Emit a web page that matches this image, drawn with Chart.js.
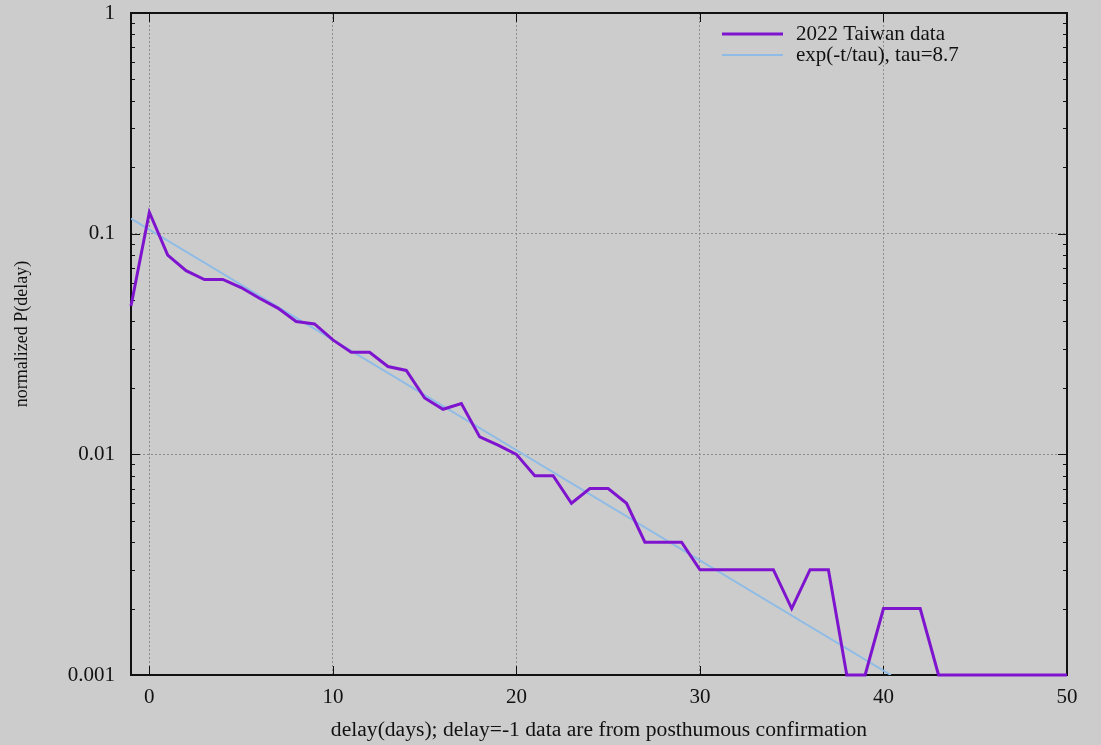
<!DOCTYPE html>
<html>
<head>
<meta charset="utf-8">
<script src="https://cdn.jsdelivr.net/npm/chart.js@4.4.1/dist/chart.umd.min.js"></script>
<style>
  html, body { margin: 0; padding: 0; background: #cccccc; }
  #wrap { width: 1101px; height: 745px; }
</style>
</head>
<body>
<div id="wrap"><canvas id="c" width="1101" height="745"></canvas></div>
<script>
// Reporting delay (days) and the normalized probability of each delay
const delays = [-1, 0, 1, 2, 3, 4, 5, 6, 7, 8, 9,
  10, 11, 12, 13, 14, 15, 16, 17, 18, 19,
  20, 21, 22, 23, 24, 25, 26, 27, 28, 29,
  30, 31, 32, 33, 34, 35, 36, 37, 38, 39,
  40, 41, 42, 43, 44, 45, 46, 47, 48, 49, 50];
const probability = [0.047, 0.125, 0.080, 0.068, 0.062, 0.062, 0.057, 0.051, 0.046, 0.040, 0.039,
  0.033, 0.029, 0.029, 0.025, 0.024, 0.018, 0.016, 0.017, 0.012, 0.011,
  0.010, 0.008, 0.008, 0.006, 0.007, 0.007, 0.006, 0.004, 0.004, 0.004,
  0.003, 0.003, 0.003, 0.003, 0.003, 0.002, 0.003, 0.003, 0.001, 0.001,
  0.002, 0.002, 0.002, 0.001, 0.001, 0.001, 0.001, 0.001, 0.001, 0.001, 0.001];

// Exponential fit: a straight line on the log axis, given by its end points
const fitDelays = [-1, 40.4];
const fitValues = [0.117, 0.001];

const xTicks = [0, 10, 20, 30, 40, 50];
const yTicks = [0.001, 0.01, 0.1, 1];
const yMinorFactors = [2, 3, 4, 5, 6, 7, 8, 9];
const seriesLabels = ['2022 Taiwan data', 'exp(-t/tau), tau=8.7'];
const xTitle = 'delay(days); delay=-1 data are from posthumous confirmation';
const yTitle = 'normalized P(delay)';

const DATA_COLOR = '#7f14cf';
const FIT_COLOR = '#8fbce6';
const BG = '#cccccc';
const INK = '#111111';
const FONT = '"Liberation Serif", "DejaVu Serif", serif';

const dataPoints = delays.map((d, i) => ({ x: d, y: probability[i] }));
const fitPoints = fitDelays.map((d, i) => ({ x: d, y: fitValues[i] }));

// Paint the grey page behind everything
const background = {
  id: 'background',
  beforeDraw(chart) {
    const ctx = chart.ctx;
    ctx.save();
    ctx.fillStyle = BG;
    ctx.fillRect(0, 0, chart.width, chart.height);
    ctx.restore();
  }
};

// Border box with inward tick marks on all four sides
const frame = {
  id: 'frame',
  beforeDatasetsDraw(chart) {
    const { ctx, chartArea: a, scales } = chart;
    const xs = scales.x, ys = scales.y;
    ctx.save();
    ctx.strokeStyle = INK;
    ctx.lineWidth = 1;
    ctx.beginPath();
    xTicks.forEach(v => {
      const px = Math.round(xs.getPixelForValue(v)) + 0.5;
      ctx.moveTo(px, a.bottom); ctx.lineTo(px, a.bottom - 9);
      ctx.moveTo(px, a.top); ctx.lineTo(px, a.top + 9);
    });
    yTicks.forEach(v => {
      const py = Math.round(ys.getPixelForValue(v)) + 0.5;
      ctx.moveTo(a.left, py); ctx.lineTo(a.left + 9, py);
      ctx.moveTo(a.right, py); ctx.lineTo(a.right - 9, py);
    });
    for (let k = 0; k < yTicks.length - 1; k++) {
      yMinorFactors.forEach(f => {
        const py = Math.round(ys.getPixelForValue(yTicks[k] * f)) + 0.5;
        ctx.moveTo(a.left, py); ctx.lineTo(a.left + 4, py);
        ctx.moveTo(a.right, py); ctx.lineTo(a.right - 4, py);
      });
    }
    ctx.stroke();
    ctx.lineWidth = 2;
    ctx.strokeRect(a.left, a.top, a.right - a.left, a.bottom - a.top);
    ctx.restore();
  }
};

// Key in the upper right corner, and the vertical axis title
const annotations = {
  id: 'annotations',
  afterDraw(chart) {
    const { ctx, chartArea: a } = chart;
    const lineX0 = a.right - 345, lineX1 = a.right - 284, textX = a.right - 271;
    const rows = [
      { y: a.top + 21, color: DATA_COLOR, width: 3 },
      { y: a.top + 42, color: FIT_COLOR, width: 2 }
    ];
    ctx.save();
    ctx.font = '21px ' + FONT;
    ctx.textBaseline = 'middle';
    ctx.textAlign = 'left';
    rows.forEach((r, i) => {
      ctx.strokeStyle = r.color;
      ctx.lineWidth = r.width;
      ctx.beginPath();
      ctx.moveTo(lineX0, r.y); ctx.lineTo(lineX1, r.y);
      ctx.stroke();
      ctx.fillStyle = INK;
      ctx.fillText(seriesLabels[i], textX, r.y);
    });
    ctx.translate(22, 334);
    ctx.rotate(-Math.PI / 2);
    ctx.font = '18px ' + FONT;
    ctx.textAlign = 'center';
    ctx.fillText(yTitle, 0, 0);
    ctx.restore();
  }
};

new Chart(document.getElementById('c'), {
  type: 'line',
  data: {
    datasets: [
      {
        label: seriesLabels[0],
        data: dataPoints,
        borderColor: DATA_COLOR,
        borderWidth: 3,
        pointRadius: 0,
        tension: 0,
        clip: false,
        order: 1
      },
      {
        label: seriesLabels[1],
        data: fitPoints,
        borderColor: FIT_COLOR,
        borderWidth: 2,
        pointRadius: 0,
        tension: 0,
        order: 2
      }
    ]
  },
  options: {
    responsive: false,
    devicePixelRatio: 1,
    animation: false,
    events: [],
    layout: { padding: { top: 13, right: 34, left: 0, bottom: 0 } },
    plugins: {
      legend: { display: false },
      tooltip: { enabled: false }
    },
    scales: {
      x: {
        type: 'linear',
        min: -1,
        max: 50,
        afterBuildTicks(scale) { scale.ticks = xTicks.map(v => ({ value: v })); },
        afterFit(scale) {
          scale.height = 70;
          scale.paddingLeft = 0; scale.paddingRight = 0;
        },
        grid: { color: '#8c8c8c', lineWidth: 1, drawTicks: false },
        border: { display: false, dash: [2, 2] },
        ticks: {
          color: INK,
          padding: 10,
          maxRotation: 0,
          font: { family: FONT, size: 21 },
          callback: v => String(v)
        },
        title: {
          display: true,
          text: xTitle,
          color: INK,
          padding: { top: 0, bottom: 1.5 },
          font: { family: FONT, size: 21.6 }
        }
      },
      y: {
        type: 'logarithmic',
        min: 0.001,
        max: 1,
        afterBuildTicks(scale) { scale.ticks = yTicks.map(v => ({ value: v })); },
        afterFit(scale) {
          scale.width = 131;
          scale.paddingTop = 0; scale.paddingBottom = 0;
        },
        grid: { color: '#8c8c8c', lineWidth: 1, drawTicks: false },
        border: { display: false, dash: [2, 2] },
        ticks: {
          color: INK,
          padding: 16,
          font: { family: FONT, size: 21 },
          callback: v => String(v)
        },
        title: { display: false }
      }
    }
  },
  plugins: [background, frame, annotations]
});
</script>
</body>
</html>
